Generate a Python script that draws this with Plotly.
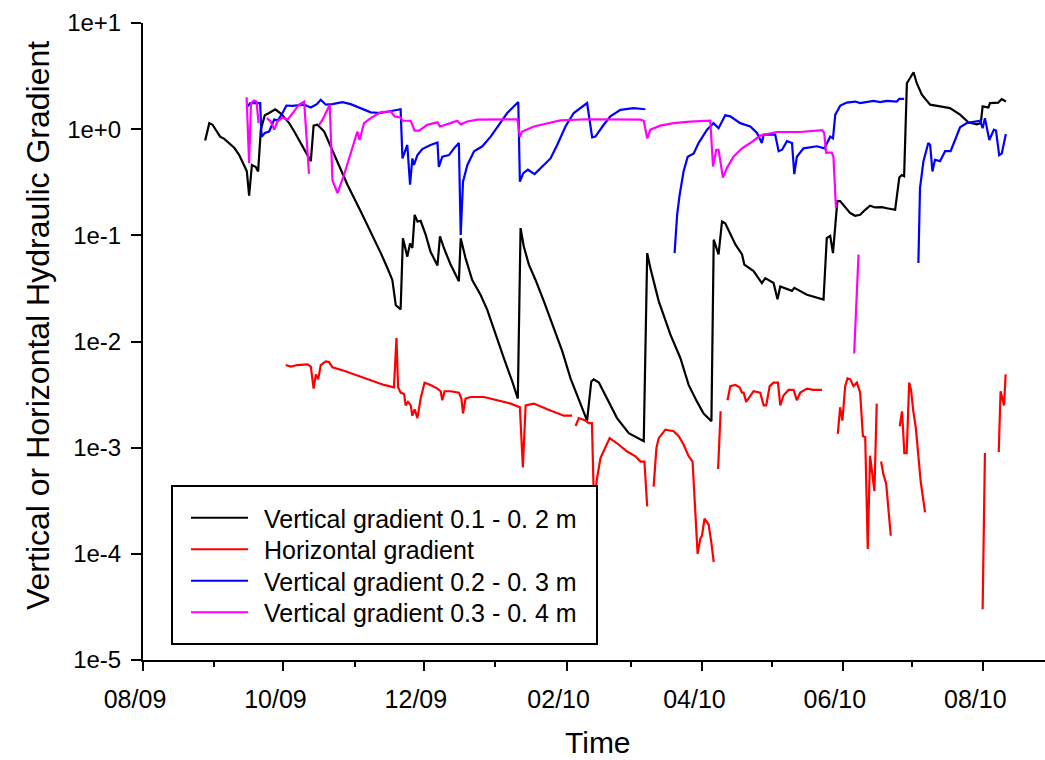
import pandas as pd
import plotly.graph_objects as go

# ---------------- data (days since 2009-08-01, gradient values) ----------------
START = "2009-08-01"

black_day = [27.0, 28.8, 30.2, 32.1, 33.5, 35.3, 37.4, 39.6, 41.8, 43.9,
             45.1, 46.1, 47.3, 49.0, 50.0, 51.2, 52.9, 54.8, 57.4, 59.9,
             63.5, 65.7, 70.0, 72.9, 74.1, 75.8, 78.7, 83.0, 88.8, 94.6,
             100.3, 103.3, 106.2, 108.3, 109.8, 111.9, 112.9, 114.8, 116.0, 117.0,
             118.0, 119.2, 120.6, 122.8, 124.9, 127.9, 129.0, 130.7, 133.6, 137.2,
             138.0, 140.1, 143.0, 146.6, 149.5, 153.1, 156.7, 160.4, 162.8, 164.0,
             165.4, 167.6, 170.5, 174.1, 178.4, 182.1, 185.7, 189.3, 192.9, 194.7,
             195.8, 198.0, 201.6, 205.9, 211.0, 217.5, 219.0, 220.4, 224.0, 229.1,
             233.4, 237.0, 240.7, 243.5, 246.9, 247.9, 250.0, 251.5, 252.9, 257.3,
             260.2, 261.2, 265.2, 268.8, 270.3, 273.9, 275.6, 276.8, 281.9, 282.9,
             288.4, 295.6, 297.0, 298.5, 299.7, 301.6, 302.8, 307.2, 309.3, 311.5,
             313.7, 315.8, 318.0, 320.9, 323.1, 326.7, 328.5, 329.6, 330.6, 331.8,
             334.7, 336.1, 338.3, 341.9, 346.2, 350.5, 354.9, 358.5, 362.1, 363.9,
             364.7, 367.2, 367.9, 371.5, 373.0, 374.8]
black_val = [0.78, 1.14, 1.10, 0.95, 0.85, 0.81, 0.74, 0.67, 0.57, 0.46,
             0.40, 0.236, 0.46, 0.44, 0.40, 1.0, 1.35, 1.42, 1.54, 1.40,
             1.14, 0.95, 0.64, 0.50, 1.08, 1.10, 0.95, 0.59, 0.30, 0.168,
             0.094, 0.068, 0.049, 0.038, 0.022, 0.020, 0.094, 0.063, 0.084, 0.076,
             0.156, 0.135, 0.137, 0.101, 0.070, 0.052, 0.098, 0.076, 0.053, 0.037,
             0.094, 0.061, 0.038, 0.0276, 0.020, 0.0116, 0.0070, 0.0042, 0.0029, 0.117,
             0.0786, 0.053, 0.038, 0.024, 0.0134, 0.0081, 0.0045, 0.0028, 0.0018, 0.0042,
             0.0044, 0.0041, 0.0029, 0.0019, 0.00137, 0.00115, 0.068, 0.049, 0.024, 0.0116,
             0.0070, 0.0039, 0.0027, 0.0021, 0.00177, 0.091, 0.066, 0.135, 0.130, 0.082,
             0.066, 0.053, 0.046, 0.0355, 0.0395, 0.0355, 0.025, 0.033, 0.030, 0.032,
             0.0276, 0.0248, 0.094, 0.099, 0.068, 0.21, 0.21, 0.162, 0.153, 0.156,
             0.174, 0.19, 0.183, 0.184, 0.18, 0.174, 0.35, 0.37, 0.36, 2.71,
             3.44, 2.71, 2.11, 1.70, 1.64, 1.58, 1.37, 1.16, 1.11, 1.14,
             1.64, 1.60, 1.76, 1.78, 1.92, 1.82]

red_day = [62.0, 64.2, 67.1, 71.5, 72.9, 74.1, 75.1, 76.1, 77.2, 79.4,
           80.8, 82.3, 87.3, 93.1, 98.9, 104.7, 109.0, 110.1, 110.8, 111.9,
           113.4, 114.1, 115.1, 116.3, 117.0, 118.0, 119.2, 120.6, 122.3, 124.9,
           127.9, 129.3, 130.0, 131.0, 133.6, 137.2, 138.3, 139.0, 140.1, 142.3,
           148.1, 153.9, 159.7, 163.7, 165.0, 166.2, 169.8, 175.6, 182.8, 186.4,
           None, 187.9, 189.3, 192.2, 193.6, 195.0, 195.9, 197.0, 198.7, 202.7,
           205.9, 210.3, 213.9, 216.1, 217.8, 219.0, None, 221.8, 223.0, 224.0,
           226.9, 230.5, 232.7, 234.8, 237.0, 238.7, 239.9, 240.9, 242.1, 242.8,
           243.9, 245.7, 246.9, 247.9, None, 249.8, 250.9, None, 253.9, 255.1,
           257.3, 259.1, 260.2, 260.9, 262.0, 263.8, 265.2, 268.1, 269.6, 270.7,
           272.2, 273.9, 275.8, 276.8, 278.2, 280.4, 282.6, 284.0, 285.5, 288.4,
           291.2, 294.9, None, 301.8, 302.8, 303.8, 305.0, 306.0, 307.2, 308.6,
           310.1, 311.5, 312.7, 313.7, 314.8, 315.8, 317.7, 318.7, None, 320.6,
           321.6, 322.8, 324.8, None, 328.7, 329.7, 330.7, 331.7, 332.8, 333.6,
           334.6, 335.7, 337.8, 339.7, None, 364.7, 365.7, None, 371.7, 372.5,
           374.0, 374.7]
red_val = [0.0060, 0.0058, 0.0060, 0.0061, 0.0058, 0.0036, 0.0049, 0.0044, 0.0060, 0.0065,
           0.0064, 0.0057, 0.0053, 0.0048, 0.0043, 0.0039, 0.0037, 0.0108, 0.0037, 0.0033,
           0.0032, 0.0025, 0.0027, 0.0025, 0.0020, 0.0023, 0.0019, 0.0029, 0.0041, 0.0039,
           0.0036, 0.0034, 0.0028, 0.0034, 0.0034, 0.0033, 0.0029, 0.0021, 0.0029, 0.0030,
           0.0030, 0.0028, 0.0026, 0.0024, 0.00065, 0.0025, 0.0026, 0.0023, 0.0020, 0.0020,
           None, 0.0016, 0.0019, 0.0018, 0.0017, 0.0017, 0.00028, 0.00048, 0.0008, 0.00123,
           0.0011, 0.00092, 0.00083, 0.00074, 0.00074, 0.00028, None, 0.00043, 0.00099, 0.00123,
           0.00148, 0.00143, 0.00128, 0.00107, 0.00083, 0.00074, 0.00025, 0.0001, 0.00014, 0.000148,
           0.000215, 0.000188, 0.000126, 0.0000837, None, 0.00063, 0.0022, None, 0.0028, 0.0038,
           0.0039, 0.0037, 0.0033, 0.0033, 0.0027, 0.0031, 0.0034, 0.0033, 0.0025, 0.0025,
           0.0038, 0.0041, 0.0041, 0.0025, 0.0031, 0.0035, 0.0035, 0.0028, 0.0033, 0.0036,
           0.0035, 0.0035, None, 0.00135, 0.0024, 0.0018, 0.0038, 0.0045, 0.0044, 0.0038,
           0.0041, 0.0033, 0.00128, 0.00126, 0.000111, 0.00084, 0.00039, 0.0026, None, 0.00074,
           0.00056, 0.00046, 0.000148, None, 0.00159, 0.0022, 0.00089, 0.00089, 0.0041, 0.0035,
           0.0022, 0.00153, 0.00048, 0.000246, None, 0.00003, 0.00089, None, 0.00091, 0.0034,
           0.0025, 0.0049]

blue_day = [45.4, 46.6, 50.9, 51.5, 52.9, 54.8, 57.0, 58.6, 60.6, 62.3,
            64.9, 70.0, 72.9, 75.5, 77.2, 79.4, 82.3, 86.6, 90.2, 94.6,
            98.9, 103.3, 107.6, 110.2, 111.9, 112.7, 114.1, 114.8, 116.0, 117.0,
            117.7, 119.2, 121.3, 124.9, 127.9, 128.5, 130.0, 132.9, 135.1, 137.2,
            138.0, 139.0, 140.9, 143.8, 147.4, 151.0, 154.6, 158.2, 163.0, 163.7,
            165.2, 167.2, 170.1, 174.1, 177.0, 179.9, 183.5, 187.1, 192.9, 195.1,
            196.5, 200.1, 203.0, 207.4, 213.1, 218.2, None, 230.9, 232.0, 233.1,
            234.8, 236.6, 239.2, 241.3, 245.0, 247.8, 250.0, 252.9, 255.1, 259.4,
            263.8, 266.7, 268.8, 269.6, 274.6, 276.1, 277.6, 279.7, 281.9, 282.9,
            284.0, 286.9, 292.7, 296.0, 297.0, 298.5, 299.7, 300.7, 302.9, 305.7,
            309.4, 311.5, 317.3, 320.2, 323.1, 327.4, 328.5, 330.6, None, 336.8,
            337.5, 339.0, 341.1, 341.9, 342.9, 344.0, 346.2, 348.4, 350.8, 354.9,
            357.8, 363.6, 364.7, 365.7, 367.6, 369.6, 370.5, 371.9, 373.0, 374.8]
blue_val = [1.64, 1.76, 1.76, 0.85, 0.92, 0.95, 1.23, 1.21, 1.42, 1.67,
            1.66, 1.70, 1.60, 1.72, 1.89, 1.70, 1.72, 1.80, 1.72, 1.56,
            1.44, 1.42, 1.49, 1.52, 1.54, 0.53, 0.66, 0.71, 0.30, 0.53,
            0.46, 0.57, 0.65, 0.71, 0.75, 0.44, 0.55, 0.57, 0.66, 0.74,
            0.101, 0.32, 0.46, 0.62, 0.69, 0.85, 1.10, 1.42, 1.80, 0.32,
            0.385, 0.415, 0.377, 0.46, 0.53, 0.71, 1.06, 1.42, 1.76, 0.835,
            0.85, 1.10, 1.32, 1.52, 1.58, 1.54, None, 0.068, 0.156, 0.24,
            0.40, 0.55, 0.59, 0.74, 0.99, 1.14, 1.02, 1.35, 1.32, 1.14,
            1.06, 0.92, 0.74, 0.89, 0.89, 0.62, 0.64, 0.77, 0.74, 0.377,
            0.55, 0.66, 0.69, 0.66, 0.73, 0.85, 0.82, 1.37, 1.67, 1.78,
            1.82, 1.76, 1.85, 1.80, 1.85, 1.82, 1.93, 1.93, None, 0.055,
            0.28, 0.50, 0.74, 0.71, 0.40, 0.515, 0.50, 0.62, 0.62, 1.04,
            1.14, 1.20, 1.02, 1.27, 0.79, 0.99, 0.97, 0.57, 0.59, 0.90]

magenta_day = [45.0, 46.1, 46.9, 48.3, 49.3, 50.2, None, 53.8, 55.5, 57.0,
               58.4, 60.6, 62.8, 65.6, 67.8, 70.0, 72.1, None, 76.5, 78.0,
               81.1, 82.3, 84.5, 87.3, 90.2, 93.1, 94.1, 96.0, 98.9, 103.3,
               107.6, 109.3, 111.9, 112.7, 116.3, 118.0, 119.9, 123.5, 127.9, 129.0,
               133.6, 136.5, 138.0, 140.9, 145.2, 162.6, 163.7, 164.7, 169.8, 175.6,
               181.3, 192.9, 216.1, 217.5, 219.0, 220.4, 224.7, 230.5, 237.7, 246.4,
               247.6, 249.0, 250.0, 251.9, 253.6, 256.5, 260.2, 263.8, 268.1, 275.4,
               285.5, 295.0, 295.9, 296.7, 299.2, 299.9, 301.0, None, 308.9, 310.8]
magenta_val = [2.0, 0.48, 1.76, 1.86, 1.82, 1.14, None, 1.27, 1.18, 0.99,
               1.18, 1.29, 1.23, 1.47, 1.70, 1.82, 0.38, None, 1.10, 1.23,
               1.70, 0.33, 0.25, 0.37, 0.59, 0.95, 0.79, 1.14, 1.27, 1.45,
               1.47, 1.32, 1.29, 1.20, 1.20, 0.97, 0.97, 1.10, 1.16, 1.06,
               1.14, 1.20, 1.11, 1.18, 1.23, 1.24, 0.85, 0.95, 1.06, 1.14,
               1.21, 1.24, 1.23, 1.20, 0.82, 0.99, 1.08, 1.14, 1.18, 1.20,
               0.445, 0.64, 0.64, 0.35, 0.43, 0.55, 0.66, 0.74, 0.87, 0.94,
               0.94, 0.98, 0.92, 0.60, 0.60, 0.55, 0.18, None, 0.0077, 0.066]

series_names = ["Vertical gradient 0.1 - 0. 2 m", "Horizontal gradient",
                "Vertical gradient 0.2 - 0. 3 m", "Vertical gradient 0.3 - 0. 4 m"]
series_colors = ["#000000", "#FF0000", "#0000FF", "#FF00FF"]

y_tickvals = [1e-5, 1e-4, 1e-3, 1e-2, 1e-1, 1e0, 1e1]
y_ticktext = ["1e-5", "1e-4", "1e-3", "1e-2", "1e-1", "1e+0", "1e+1"]

x_start = "2009-08-01"
x_end = "2010-08-27 19:00"

# ---------------- build ----------------
start_ts = pd.Timestamp(START)


def to_xy(days, vals):
    xs, ys, prev = [], [], 0.0
    for d, v in zip(days, vals):
        if d is None:
            d = prev
        xs.append(start_ts + pd.Timedelta(days=d))
        ys.append(v)
        prev = d
    return xs, ys


FONT = "Liberation Sans, Arial, sans-serif"
fig = go.Figure()
for (days, vals), name, color in zip(
        [(black_day, black_val), (red_day, red_val), (blue_day, blue_val), (magenta_day, magenta_val)],
        series_names, series_colors):
    xs, ys = to_xy(days, vals)
    fig.add_trace(go.Scatter(x=xs, y=ys, mode="lines", name=name, showlegend=False,
                             line=dict(color=color, width=2.2), connectgaps=False))

# ---- legend box drawn in paper coordinates (box, sample lines, labels) ----
PLOT_L, PLOT_W, PLOT_B, PLOT_H = 143, 902, 660, 637


def px(xp):
    return (xp - PLOT_L) / PLOT_W


def py(yp):
    return (PLOT_B - yp) / PLOT_H


shapes = [dict(type="rect", xref="paper", yref="paper", layer="above",
               x0=px(172), x1=px(597), y0=py(644), y1=py(486),
               line=dict(color="black", width=2), fillcolor="white")]
annotations = []
row_y = [517.7, 549.3, 580.7, 612.3]
for name, color, yc in zip(series_names, series_colors, row_y):
    shapes.append(dict(type="line", xref="paper", yref="paper", layer="above",
                       x0=px(191), x1=px(248), y0=py(yc), y1=py(yc),
                       line=dict(color=color, width=2)))
    annotations.append(dict(xref="paper", yref="paper", x=px(262), y=py(yc + 1),
                            xanchor="left", yanchor="middle", showarrow=False,
                            text=name, font=dict(size=25, family=FONT, color="black")))

# axis titles (placed as in the original figure)
annotations.append(dict(xref="paper", yref="paper", x=px(38), y=py(326),
                        xanchor="center", yanchor="middle", textangle=-90, showarrow=False,
                        text="Vertical or Horizontal Hydraulic Gradient",
                        font=dict(size=32, family=FONT, color="black")))
annotations.append(dict(xref="paper", yref="paper", x=px(598), y=py(759.5),
                        xanchor="center", yanchor="bottom", showarrow=False, borderpad=0,
                        text="Time", font=dict(size=30, family=FONT, color="black")))

fig.update_layout(
    width=1045, height=760,
    margin=dict(l=143, r=0, t=23, b=100, autoexpand=False),
    paper_bgcolor="white", plot_bgcolor="white",
    font=dict(family=FONT, color="black"),
    showlegend=False,
    shapes=shapes, annotations=annotations,
)
fig.update_xaxes(
    type="date", range=[x_start, x_end], automargin=False,
    tick0="2009-08-01", dtick="M2", tickformat="%m/%y",
    ticks="outside", ticklen=9, tickwidth=2, tickcolor="black",
    ticklabelshift=-8, ticklabelstandoff=7,
    minor=dict(dtick="M1", tick0="2009-08-01", ticks="outside", ticklen=5, tickwidth=2,
               tickcolor="black", showgrid=False),
    showline=True, linewidth=2, linecolor="black",
    showgrid=False, zeroline=False,
    tickfont=dict(size=25, family=FONT, color="black"),
)
fig.update_yaxes(
    type="log", range=[-5, 1], automargin=False,
    tickmode="array", tickvals=y_tickvals, ticktext=y_ticktext,
    ticks="outside", ticklen=10, tickwidth=2, tickcolor="black",
    ticklabelstandoff=5,
    showline=True, linewidth=2, linecolor="black",
    showgrid=False, zeroline=False,
    tickfont=dict(size=24, family=FONT, color="black"),
)

fig.write_html("out.html")
